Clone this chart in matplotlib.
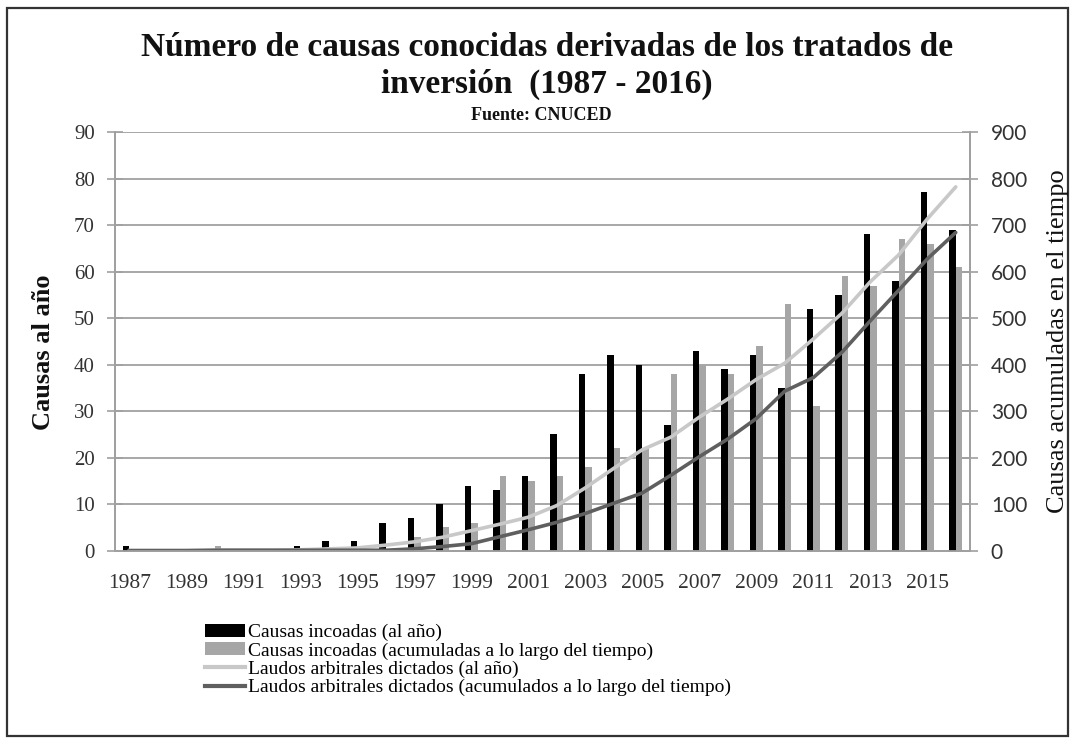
import matplotlib
matplotlib.use("Agg")
import matplotlib.pyplot as plt
from matplotlib.patches import Patch, Rectangle
from matplotlib.lines import Line2D
import numpy as np

years = [str(y) for y in range(1987, 2017)]
causas_anio = [1, 0, 0, 0, 0, 0, 1, 2, 2, 6, 7, 10, 14, 13, 16, 25, 38, 42, 40, 27,
               43, 39, 42, 35, 52, 55, 68, 58, 77, 69]
causas_gris = [0, 0, 0, 1, 0, 0, 0, 0, 0, 0, 3, 5, 6, 16, 15, 16, 18, 22, 22, 38,
               40, 38, 44, 53, 31, 59, 57, 67, 66, 61]
linea_clara = [1, 1, 1, 1, 1, 1, 2, 4, 6, 12, 19, 29, 43, 57, 72, 97, 135, 177, 217, 244,
               287, 326, 368, 403, 455, 510, 578, 636, 713, 782]
linea_oscura = [0, 0, 0, 1, 1, 1, 1, 1, 1, 1, 4, 9, 15, 30, 45, 61, 80, 102, 124, 162,
                202, 240, 284, 343, 372, 426, 494, 560, 627, 684]

labels = ["Causas incoadas (al año)",
          "Causas incoadas (acumuladas a lo largo del tiempo)",
          "Laudos arbitrales dictados (al año)",
          "Laudos arbitrales dictados (acumulados a lo largo del tiempo)"]

serif = "Liberation Serif"
c_black = "#000000"
c_gray = "#a6a6a6"
c_light = "#c8c8c8"
c_dark = "#5f5f5f"
c_axis = "#a0a0a0"
c_text = "#333333"

fig = plt.figure(figsize=(10.76, 7.44), dpi=100)
ax = fig.add_axes([115/1076, 1-550.7/744, (970-115)/1076, (550.7-132)/744])
ax2 = ax.twinx()

x = np.arange(len(years))
w = 0.235
ax.bar(x - w/2, causas_anio, width=w, color=c_black, zorder=3)
ax.bar(x + w/2, causas_gris, width=w, color=c_gray, zorder=3)
ax.set_xlim(-0.5, len(years) - 0.5)
ax.set_ylim(0, 90)
ax.set_yticks(range(0, 91, 10))
ax.grid(axis="y", color=c_axis, lw=1.3, zorder=0)
ax.set_axisbelow(True)

ax2.plot(x, linea_clara, color=c_light, lw=2.6, solid_capstyle="round")
ax2.plot(x, linea_oscura, color=c_dark, lw=2.6, solid_capstyle="round")
ax2.set_ylim(0, 900)
ax2.set_yticks(range(0, 901, 100))

ax.set_xticks(x[::2])
ax.set_xticklabels(years[::2], fontfamily=serif, fontsize=15.5, color=c_text)
ax.tick_params(axis="x", length=0, pad=17)
ax.tick_params(axis="y", direction="inout", length=11, width=1.2, color=c_axis,
               pad=9, labelsize=15, labelcolor=c_text)
for lab in ax.get_yticklabels():
    lab.set_fontfamily(serif)
ax2.tick_params(axis="y", direction="inout", length=12, width=1.2, color=c_axis,
                pad=9, labelsize=15, labelcolor=c_text)
for lab in ax2.get_yticklabels():
    lab.set_fontfamily("Lato")

for a in (ax, ax2):
    a.spines["top"].set_visible(False)
    for s in ("left", "right", "bottom"):
        a.spines[s].set_color(c_axis)
        a.spines[s].set_linewidth(1.3)

fig.text(44/1076, 1-352/744, "Causas al año", rotation=90, ha="center", va="center",
         fontfamily=serif, fontweight="bold", fontsize=19, color="#111111")
fig.text(1058/1076, 1-341/744, "Causas acumuladas en el tiempo", rotation=90,
         ha="center", va="center", fontfamily=serif, fontsize=19, color="#111111")

fig.text(547/1076, 1-66/744, "Número de causas conocidas derivadas de los tratados de\ninversión  (1987 - 2016)",
         ha="center", va="center", fontfamily=serif, fontweight="bold", fontsize=24,
         linespacing=1.25, color="#111111")
fig.text(541/1076, 1-115/744, "Fuente: CNUCED", ha="center", va="center",
         fontfamily=serif, fontweight="bold", fontsize=13, color="#111111")

handles = [Patch(facecolor=c_black, edgecolor="none"),
           Patch(facecolor=c_gray, edgecolor="none"),
           Line2D([0], [0], color=c_light, lw=3),
           Line2D([0], [0], color=c_dark, lw=3)]
fig.legend(handles, labels, loc="upper left", bbox_to_anchor=(205/1076, 1-624/744),
           frameon=False, prop={"family": serif, "size": 14}, handlelength=2.05,
           handleheight=0.65, handletextpad=0.15, labelspacing=0.05,
           borderpad=0, borderaxespad=0)

fig.add_artist(Rectangle((7/1076, 8/744), 1061/1076, 728/744, transform=fig.transFigure,
                         fill=False, lw=1.6, ec="#333333"))

fig.savefig("out.png", dpi=100)
